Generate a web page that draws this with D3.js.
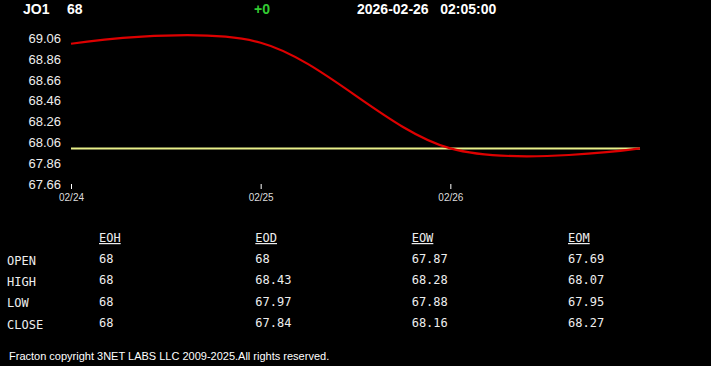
<!DOCTYPE html>
<html>
<head>
<meta charset="utf-8">
<script src="https://cdn.jsdelivr.net/npm/d3@7"></script>
<style>
  html, body { margin: 0; padding: 0; background: #000; }
  svg { display: block; }
</style>
</head>
<body>
<div id="chart"></div>
<script>
const W = 711, H = 366;

// header
const symbol = "JO1";
const lastPrice = "68";
const change = "+0";
const stamp = "2026-02-26   02:05:00";

// chart series
const dates = ["2026-02-24", "2026-02-25", "2026-02-26", "2026-02-27"];
const forecast = [69.0, 69.01, 68.0, 68.0];
const priceLine = [68, 68, 68, 68];
const yTicks = [69.06, 68.86, 68.66, 68.46, 68.26, 68.06, 67.86, 67.66];
const xTicks = ["2026-02-24", "2026-02-25", "2026-02-26"];

// table
const periods = ["EOH", "EOD", "EOW", "EOM"];
const rowLabels = ["OPEN", "HIGH", "LOW", "CLOSE"];
const eoh = [68, 68, 68, 68];
const eod = [68, 68.43, 67.97, 67.84];
const eow = [67.87, 68.28, 67.88, 68.16];
const eom = [67.69, 68.07, 67.95, 68.27];

const footer = "Fracton copyright 3NET LABS LLC 2009-2025.All rights reserved.";

const parse = d3.timeParse("%Y-%m-%d");

const svg = d3.select("#chart")
  .append("svg")
  .attr("width", W)
  .attr("height", H)
  .style("background", "#000");

const x = d3.scaleTime()
  .domain([parse(dates[0]), parse(dates[dates.length - 1])])
  .range([71, 640]);

const y = d3.scaleLinear()
  .domain([67.66, 69.06])
  .range([184, 37.5]);

// header text
const head = svg.append("g")
  .style("font-family", "Arial, 'Liberation Sans', sans-serif")
  .style("font-weight", "bold")
  .style("font-size", "14px");
head.append("text").attr("x", 23).attr("y", 14).attr("fill", "#fff").text(symbol);
head.append("text").attr("x", 67).attr("y", 14).attr("fill", "#fff").text(lastPrice);
head.append("text").attr("x", 254).attr("y", 14).attr("fill", "#33cc33").text(change);
head.append("text").attr("x", 357).attr("y", 14).attr("fill", "#fff")
  .style("white-space", "pre").attr("xml:space", "preserve").text(stamp);

// y axis
const yAxis = svg.append("g")
  .attr("transform", "translate(61,0)")
  .call(d3.axisLeft(y).tickValues(yTicks).tickSize(0).tickPadding(0).tickFormat(d3.format(".2f")));
yAxis.select(".domain").remove();
yAxis.selectAll("text")
  .attr("fill", "#eee")
  .attr("dy", "0.36em")
  .style("font-family", "Arial, 'Liberation Sans', sans-serif")
  .style("font-size", "13px");

// x axis
const xAxis = svg.append("g")
  .attr("transform", "translate(0,184)")
  .call(d3.axisBottom(x).tickValues(xTicks.map(parse)).tickSize(5).tickPadding(5).tickFormat(d3.timeFormat("%m/%d")));
xAxis.select(".domain").remove();
xAxis.selectAll("line").attr("stroke", "#fff");
xAxis.selectAll("text")
  .attr("fill", "#ddd")
  .style("font-family", "Arial, 'Liberation Sans', sans-serif")
  .style("font-size", "10px");

// lines
const rows = dates.map((d, i) => ({date: parse(d), f: forecast[i], p: priceLine[i]}));

svg.append("path")
  .datum(rows)
  .attr("fill", "none")
  .attr("stroke", "#e8ef8a")
  .attr("stroke-width", 2)
  .attr("d", d3.line().x(d => x(d.date)).y(d => y(d.p)));

svg.append("path")
  .datum(rows)
  .attr("fill", "none")
  .attr("stroke", "#dd0000")
  .attr("stroke-width", 2.2)
  .attr("d", d3.line().curve(d3.curveCardinal).x(d => x(d.date)).y(d => y(d.f)));

// table
const cols = [eoh, eod, eow, eom];
const colX = d3.scalePoint().domain(periods).range([99, 568]);
const rowY = d3.scalePoint().domain(rowLabels).range([260, 324]);

const tbl = svg.append("g")
  .style("font-family", "'DejaVu Sans Mono', monospace")
  .style("font-size", "12px")
  .attr("fill", "#eee");

tbl.selectAll("text.hdr")
  .data(periods)
  .enter()
  .append("text")
  .attr("class", "hdr")
  .attr("x", d => colX(d))
  .attr("y", 242)
  .style("text-decoration", "underline")
  .text(d => d);

tbl.selectAll("text.lbl")
  .data(rowLabels)
  .enter()
  .append("text")
  .attr("class", "lbl")
  .attr("x", 7)
  .attr("y", d => rowY(d) + 4.5)
  .text(d => d);

periods.forEach((p, ci) => {
  tbl.selectAll("text.v" + ci)
    .data(cols[ci])
    .enter()
    .append("text")
    .attr("class", "v" + ci)
    .attr("x", colX(p))
    .attr("y", (d, ri) => rowY(rowLabels[ri]) + 3)
    .text(d => String(d));
});

// footer
svg.append("text")
  .attr("x", 9)
  .attr("y", 360)
  .attr("fill", "#fff")
  .style("font-family", "Arial, 'Liberation Sans', sans-serif")
  .style("font-size", "11px")
  .text(footer);
</script>
</body>
</html>
